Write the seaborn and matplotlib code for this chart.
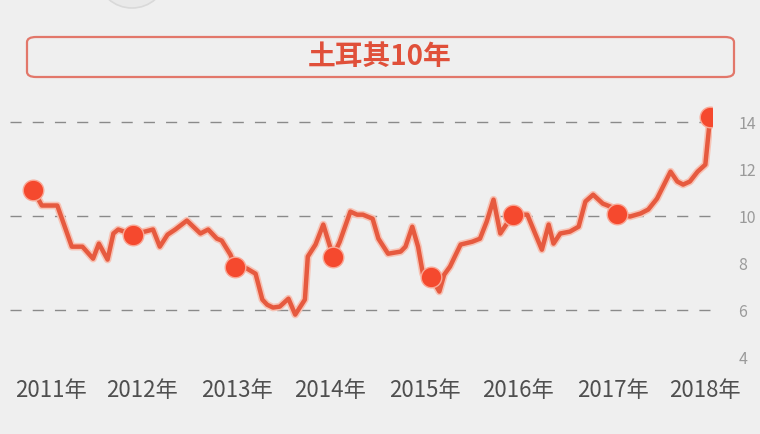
import matplotlib
matplotlib.use('Agg')
import matplotlib.pyplot as plt
import matplotlib.patheffects as pe
from matplotlib.patches import FancyBboxPatch, Ellipse
import seaborn as sns
import pandas as pd

# time as decimal years, yield in %
t = [2011.00, 2011.09, 2011.25, 2011.40, 2011.51, 2011.62, 2011.68, 2011.77, 2011.83, 2011.88,
     2012.03, 2012.24, 2012.31, 2012.39, 2012.47, 2012.59, 2012.73, 2012.81, 2012.90, 2012.95,
     2013.04, 2013.09, 2013.21, 2013.30, 2013.37, 2013.42, 2013.48, 2013.55, 2013.64, 2013.71,
     2013.81, 2013.84, 2013.92, 2014.00, 2014.07, 2014.10, 2014.17, 2014.28, 2014.35, 2014.41,
     2014.51, 2014.57, 2014.67, 2014.80, 2014.85, 2014.92, 2014.98, 2015.03, 2015.11, 2015.20,
     2015.25, 2015.31, 2015.36, 2015.42, 2015.54, 2015.62, 2015.69, 2015.76, 2015.83, 2015.96,
     2016.11, 2016.19, 2016.26, 2016.33, 2016.38, 2016.45, 2016.55, 2016.64, 2016.71, 2016.79,
     2016.89, 2016.97, 2017.04, 2017.17, 2017.28, 2017.36, 2017.45, 2017.59, 2017.66, 2017.72,
     2017.79, 2017.87, 2017.95, 2018.00]
yld = [11.13, 10.45, 10.45, 8.70, 8.70, 8.19, 8.83, 8.15, 9.26, 9.43,
       9.21, 9.43, 8.70, 9.21, 9.43, 9.81, 9.26, 9.43, 9.04, 8.96,
       8.36, 7.85, 7.77, 7.55, 6.45, 6.23, 6.11, 6.15, 6.49, 5.81,
       6.45, 8.28, 8.79, 9.64, 8.70, 8.28, 8.91, 10.19, 10.06, 10.06,
       9.89, 9.04, 8.40, 8.49, 8.70, 9.55, 8.70, 7.55, 7.43, 6.79,
       7.51, 7.85, 8.28, 8.79, 8.91, 9.04, 9.77, 10.70, 9.26, 10.06,
       10.06, 9.26, 8.57, 9.64, 8.83, 9.26, 9.34, 9.55, 10.62, 10.91,
       10.53, 10.40, 10.11, 9.98, 10.11, 10.28, 10.74, 11.89, 11.47, 11.34,
       11.47, 11.89, 12.19, 14.23]
marker_idx = [0, 10, 21, 35, 48, 59, 72, 83]

year_labels = ['2011年', '2012年', '2013年', '2014年', '2015年', '2016年', '2017年', '2018年']
year_ticks = [2011.18, 2012.13, 2013.11, 2014.07, 2015.05, 2016.01, 2016.99, 2017.95]
y_ticks = [4, 6, 8, 10, 12, 14]
grid_vals = [6, 10, 14]
title = '土耳其10年'

df = pd.DataFrame({'t': t, 'yield': yld})
dm = df.iloc[marker_idx]

bg = '#efefef'
line_c = '#e65a3f'
dot_c = '#f5492e'

sns.set_style('white', {'axes.facecolor': bg, 'figure.facecolor': bg})
plt.rcParams['font.family'] = ['Noto Sans CJK SC', 'DejaVu Sans']

fig = plt.figure(figsize=(7.6, 4.34), dpi=100)

# faint round shape cut off at the top edge
fig.patches.append(Ellipse((132 / 760, 1 + 22 / 434), 66 / 760, 60 / 434,
                           transform=fig.transFigure, facecolor='#e9e9e9',
                           edgecolor='#d9d9d9', lw=1.2))

ax = fig.add_axes([0.013, 0.177, 0.924, 0.596])

for g in grid_vals:
    ax.axhline(g, color='#8a8a8a', lw=1.0, dashes=(8, 8), zorder=1)

sns.lineplot(data=df, x='t', y='yield', ax=ax, color=line_c, lw=3.2, sort=False,
             estimator=None, zorder=3,
             path_effects=[pe.Stroke(linewidth=5.5, foreground='#f7c3b5'), pe.Normal()])
sns.scatterplot(data=dm, x='t', y='yield', ax=ax, color=dot_c, s=220, linewidth=1.0,
                edgecolor='#f9a896', zorder=4)

ax.set_xlim(2010.76, 2018.02)
ax.set_ylim(4, 15)
ax.set_xticks(year_ticks)
ax.set_xticklabels(year_labels, fontsize=16, color='#4f4f4f')
ax.yaxis.tick_right()
ax.set_yticks(y_ticks)
ax.set_yticklabels([str(v) for v in y_ticks], fontsize=11.5, color='#9a9a9a')
ax.tick_params(axis='x', length=0, pad=16)
ax.tick_params(axis='y', length=0, pad=19)
ax.set_xlabel('')
ax.set_ylabel('')
for s in ax.spines.values():
    s.set_visible(False)

# title box
box = FancyBboxPatch((27 / 760, 1 - 77 / 434), 707 / 760, 40 / 434,
                     boxstyle='round,pad=0,rounding_size=0.012',
                     transform=fig.transFigure, facecolor=bg, edgecolor='#e2776a', lw=1.6)
fig.patches.append(box)
fig.text(380 / 760, 1 - 57 / 434, title, ha='center', va='center', fontsize=20,
         fontweight='bold', color='#e0503a')

plt.savefig('out.png', dpi=100, facecolor=bg)
